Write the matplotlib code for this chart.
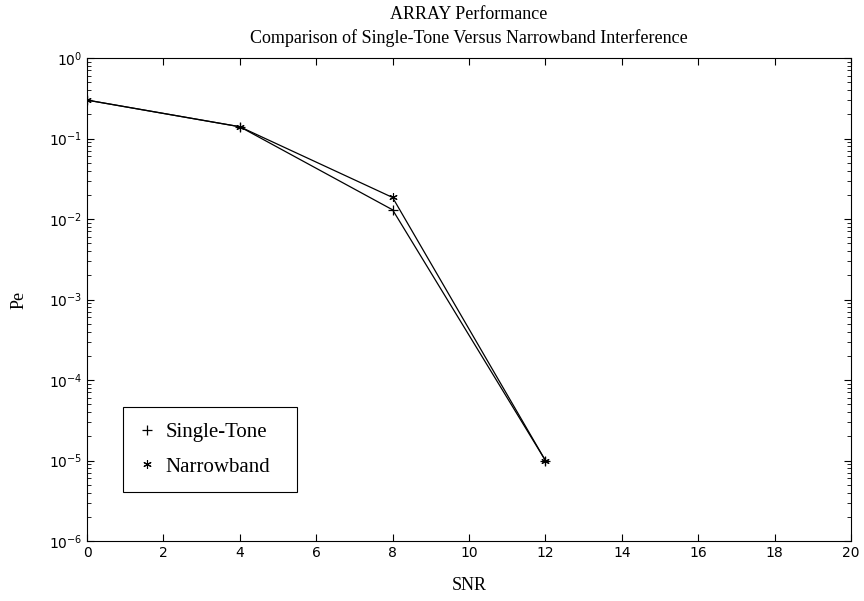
import matplotlib
matplotlib.use("Agg")
import matplotlib.pyplot as plt
from matplotlib.lines import Line2D
from matplotlib.ticker import LogLocator, FixedLocator

snr = [0, 4, 8, 12]
single_tone = [0.3, 0.14, 0.013, 1e-5]
narrowband = [0.3, 0.14, 0.0185, 1e-5]
xticks = [0, 2, 4, 6, 8, 10, 12, 14, 16, 18, 20]

fig = plt.figure(figsize=(8.64, 6.01), dpi=100)
ax = fig.add_axes([87 / 864, 60 / 601, 764 / 864, 483 / 601])

ax.plot(snr, single_tone, color='black', lw=0.9, marker='+', ms=7, mew=0.9)
ax.plot(snr, narrowband, color='black', lw=0.9, marker=(6, 2, 0), ms=6, mew=0.8)

ax.set_yscale('log')
ax.set_xlim(0, 20)
ax.set_ylim(1e-6, 1)
ax.xaxis.set_major_locator(FixedLocator(xticks))
ax.yaxis.set_major_locator(LogLocator(base=10, numticks=10))
ax.yaxis.set_minor_locator(LogLocator(base=10, subs=range(2, 10), numticks=10))
ax.tick_params(which='both', direction='in', top=True, right=True, labelsize=10)
ax.tick_params(which='major', length=5, width=0.8)
ax.tick_params(which='minor', length=3, width=0.6)
for lab in ax.get_xticklabels() + ax.get_yticklabels():
    lab.set_fontfamily('DejaVu Sans')
for s in ax.spines.values():
    s.set_linewidth(0.8)

serif = 'Liberation Serif'
ax.set_xlabel('SNR', fontsize=13, fontfamily=serif, labelpad=12)
ax.set_ylabel('Pe', fontsize=13, fontfamily=serif, labelpad=15)
ax.set_title('ARRAY Performance\nComparison of Single-Tone Versus Narrowband Interference',
             fontsize=13, fontfamily=serif, pad=11, linespacing=1.45)

handles = [Line2D([], [], color='black', ls='none', marker='+', ms=7, mew=0.9),
           Line2D([], [], color='black', ls='none', marker=(6, 2, 0), ms=6, mew=0.8)]
leg = ax.legend(handles, ['Single-Tone', 'Narrowband'], loc='lower left',
                bbox_to_anchor=(0.047, 0.101, 0.228, 0.170), mode='expand',
                prop={'family': serif, 'size': 15}, fancybox=False, framealpha=1,
                edgecolor='black', handlelength=0.8, handletextpad=0.5,
                borderpad=0.75, labelspacing=0.7, borderaxespad=0)
leg.get_frame().set_linewidth(0.8)

fig.savefig('out.png', dpi=100)
